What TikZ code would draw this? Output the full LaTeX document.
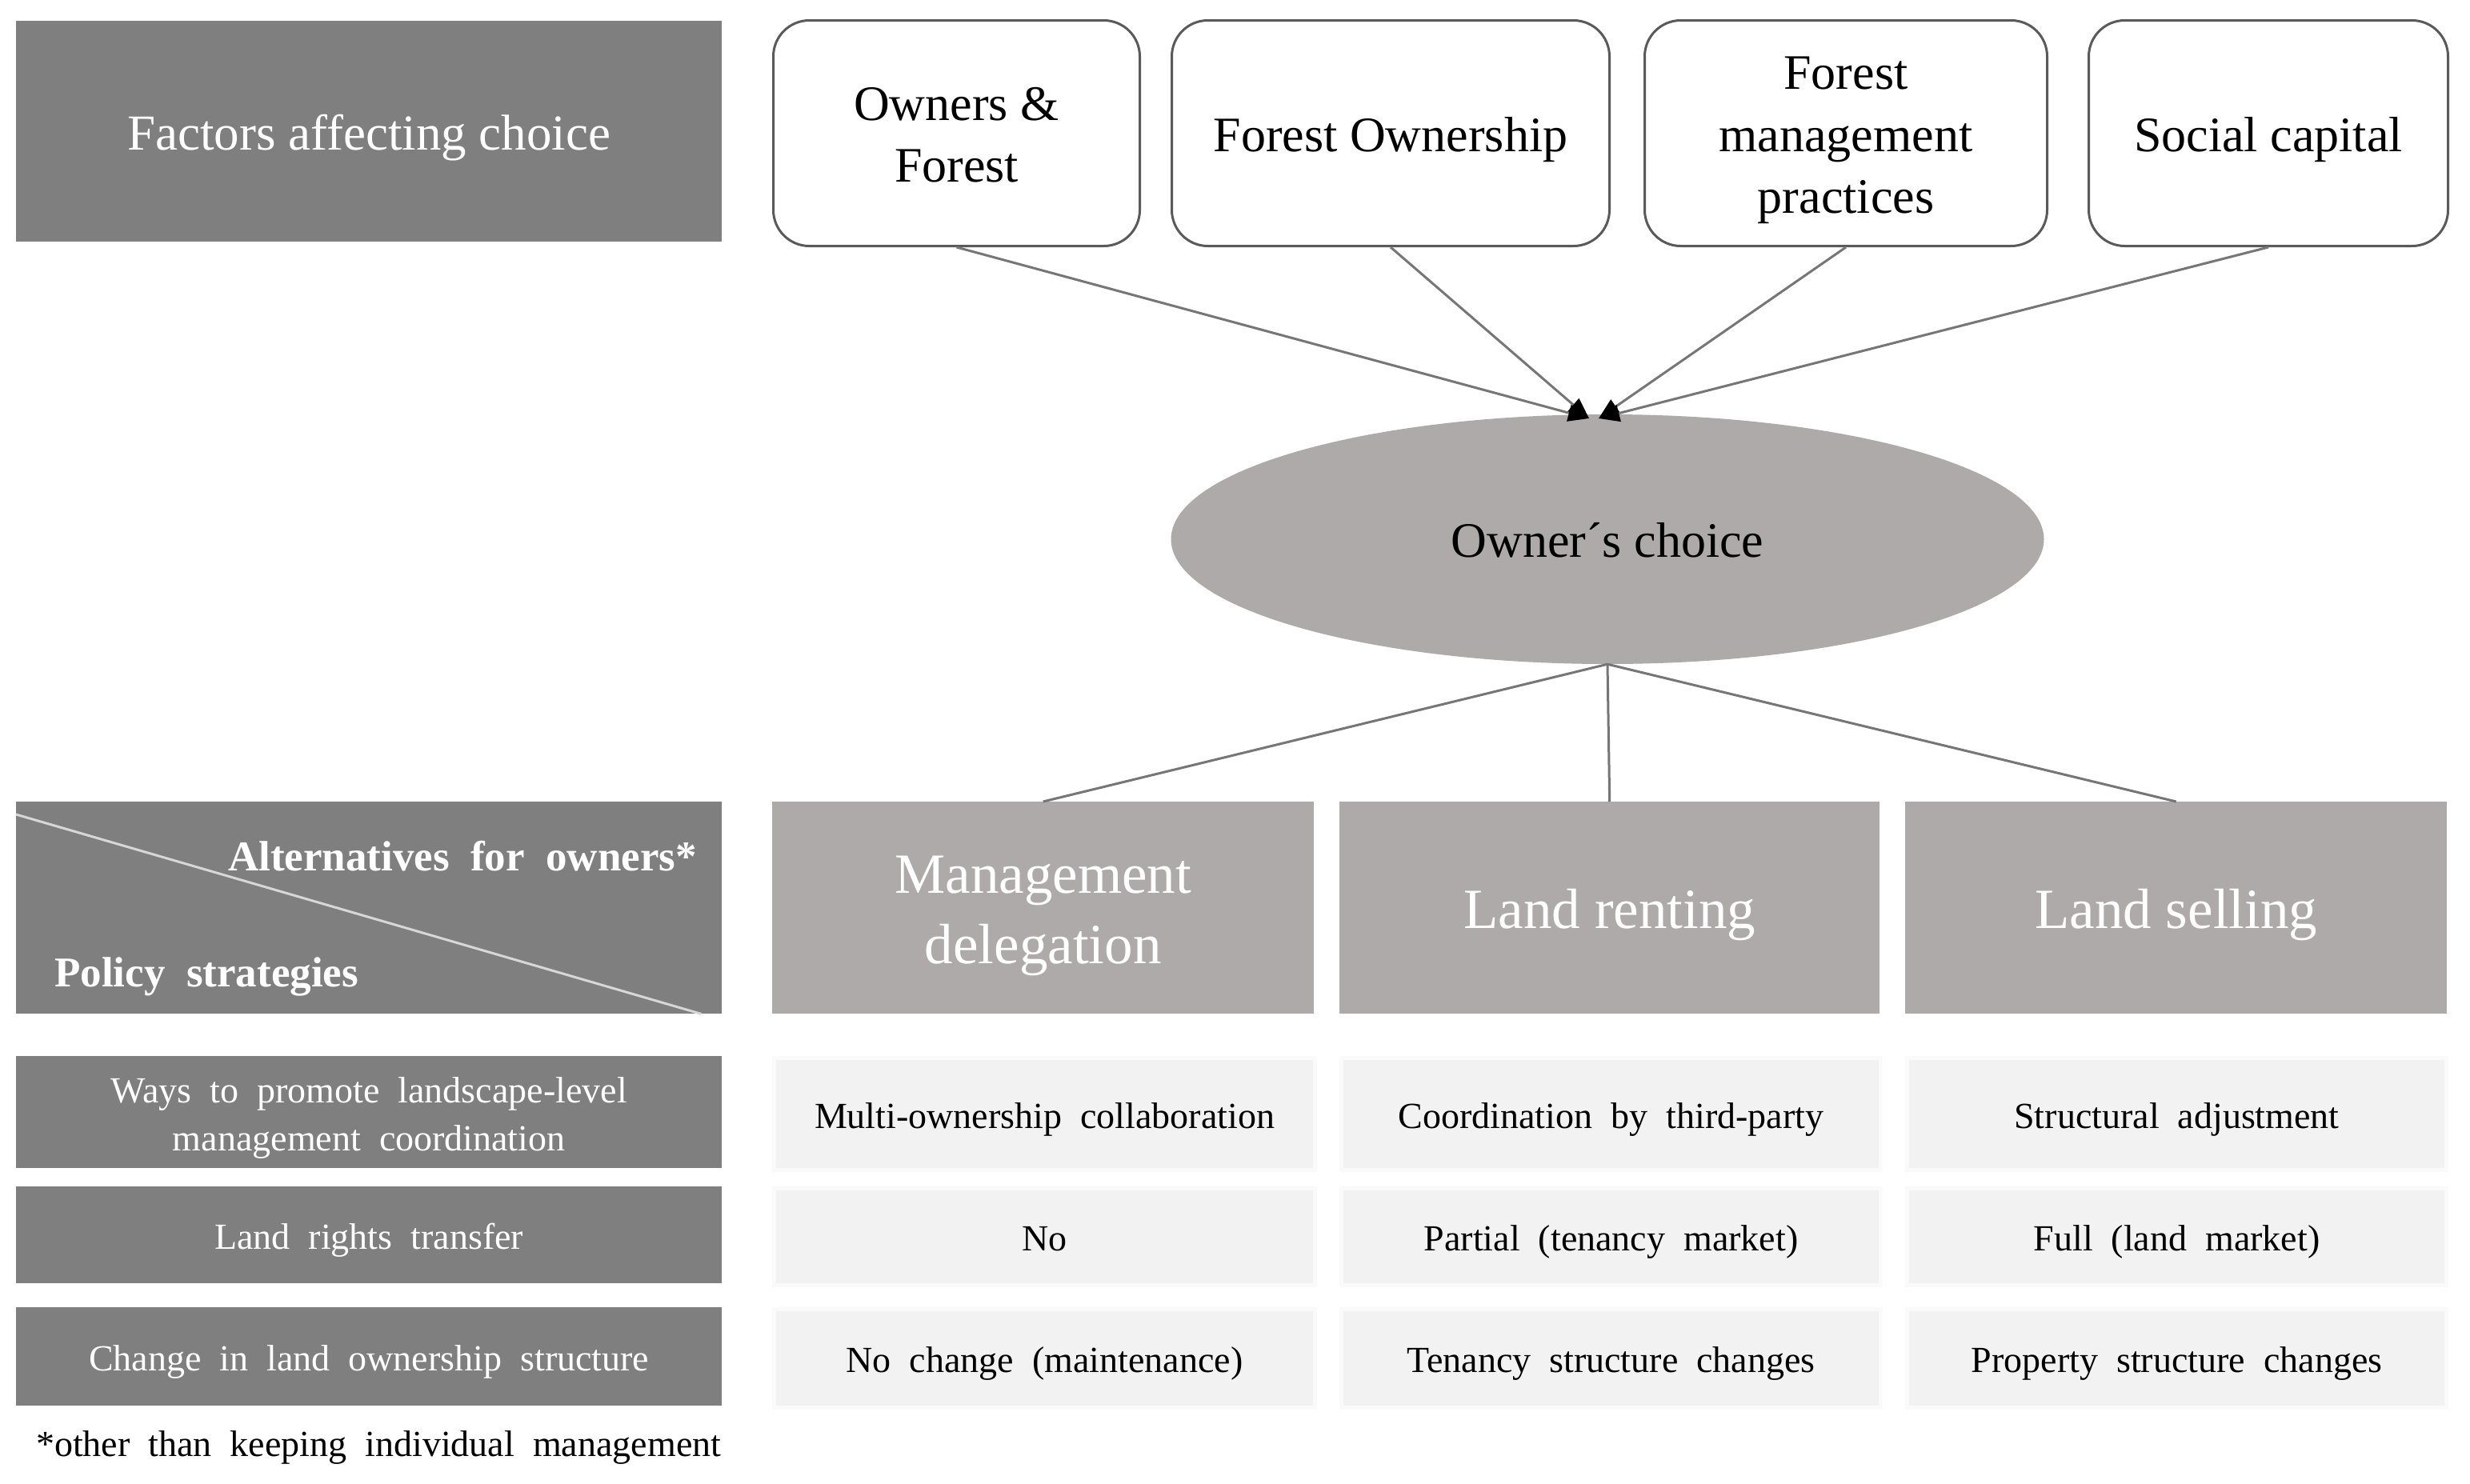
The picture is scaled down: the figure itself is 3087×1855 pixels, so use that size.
\documentclass[tikz,border=0pt]{standalone}
\usepackage{fontspec}
\setmainfont{Liberation Serif}
\usetikzlibrary{shapes.geometric,arrows.meta}
\definecolor{boxdark}{RGB}{127,127,127}
\definecolor{altgray}{RGB}{174,170,170}
\definecolor{cellgray}{RGB}{242,242,242}
\definecolor{cellrim}{RGB}{250,250,250}
\definecolor{rimgray}{RGB}{90,90,90}
\definecolor{linkgray}{RGB}{118,118,118}
\definecolor{diaggray}{RGB}{215,215,215}
\newcommand\tabfont{\fontsize{46}{58}\selectfont\spaceskip=0.5em\relax}
\newcommand\hdrfont{\fontsize{53}{64}\selectfont\bfseries\spaceskip=0.5em\relax}
\newcommand\bigfont{\fontsize{62}{75}\selectfont}
\newcommand\altfont{\fontsize{71}{84}\selectfont}
% invisible struts that put the baseline where the reference has it
\newcommand\pst{\vrule width 0pt height 0.98em depth 0.25em\relax}
\newcommand\tst{\vrule width 0pt height 1.03em depth 0.25em\relax}
\begin{document}
\begin{tikzpicture}[x=1pt,y=-1pt,
  darkbox/.style={fill=boxdark, text=white, inner sep=0pt, anchor=north west, align=center},
  factorbox/.style={draw=rimgray, line width=3pt, rounded corners=45pt, fill=white,
    inner sep=0pt, anchor=north west, align=center, font=\bigfont, minimum height=282pt},
  altbox/.style={fill=altgray, text=white, inner sep=0pt, anchor=north west, align=center,
    font=\altfont, minimum height=265pt},
  cellbox/.style={fill=cellgray, draw=cellrim, line width=5pt, inner sep=0pt,
    anchor=north west, align=center, font=\tabfont},
  link/.style={draw=linkgray, line width=3pt},
  arr/.style={link, -{Triangle[length=26pt,width=21pt,color=black]}},
]
\useasboundingbox (0,0) rectangle (3087,1855);

% header box top-left
\node[darkbox, minimum width=882pt, minimum height=276pt, font=\fontsize{63}{75}\selectfont]
  (F) at (20,26) {\pst Factors affecting choice};

% factor boxes
\node[factorbox, minimum width=458pt] (B1) at (965,24) {\pst Owners \&\\\pst Forest};
\node[factorbox, minimum width=547pt] (B2) at (1463,24) {\pst Forest Ownership};
\node[factorbox, minimum width=503pt] (B3) at (2054,24) {\pst Forest\\\pst management\\\pst practices};
\node[factorbox, minimum width=449pt] (B4) at (2609,24) {\pst Social capital};

% ellipse
\node[ellipse, fill=altgray, minimum width=1091pt, minimum height=312pt, inner sep=0pt,
  font=\bigfont] (E) at (2009,674) {\pst Owner´s choice};

\coordinate (tL) at (1986,523);
\coordinate (tR) at (1998,523);
\draw[arr] (B1.south) -- (tL);
\draw[arr] (B2.south) -- (tL);
\draw[arr] (B3.south) -- (tR);
\draw[arr] (B4.south) -- (tR);

% alternatives header
\node[darkbox, minimum width=882pt, minimum height=265pt] (H) at (20,1002) {};
\draw[diaggray, line width=3pt] ([yshift=-16pt]H.north west) -- ([xshift=-26pt]H.south east);
\node[anchor=base east, text=white, font=\hdrfont, inner sep=0pt] (Halt) at (871,1088) {Alternatives for owners*};
\node[anchor=base west, text=white, font=\hdrfont, inner sep=0pt] (Hpol) at (68,1233) {Policy strategies};

% alternatives
\node[altbox, minimum width=677pt] (D1) at (965,1002) {\pst Management\\\pst delegation};
\node[altbox, minimum width=675pt] (D2) at (1674,1002) {\pst Land renting};
\node[altbox, minimum width=677pt] (D3) at (2381,1002) {\pst Land selling};

\draw[link] (E.south) -- (D1.north);
\draw[link] (E.south) -- (D2.north);
\draw[link] (E.south) -- (D3.north);

% left row labels
\node[darkbox, font=\tabfont, minimum width=882pt, minimum height=140pt] (L1) at (20,1320)
  {\tst Ways to promote landscape-level\\\tst management coordination};
\node[darkbox, font=\tabfont, minimum width=882pt, minimum height=121pt] (L2) at (20,1483)
  {\tst Land rights transfer};
\node[darkbox, font=\tabfont, minimum width=882pt, minimum height=123pt] (L3) at (20,1634)
  {\tst Change in land ownership structure};

% cells row 1
\node[cellbox, minimum width=676pt, minimum height=140pt] (C11) at (965,1320) {\tst Multi-ownership collaboration};
\node[cellbox, minimum width=674pt, minimum height=140pt] (C12) at (1674,1320) {\tst Coordination by third-party};
\node[cellbox, minimum width=674pt, minimum height=140pt] (C13) at (2381,1320) {\tst Structural adjustment};
% row 2
\node[cellbox, minimum width=676pt, minimum height=121pt] (C21) at (965,1483) {\tst No};
\node[cellbox, minimum width=674pt, minimum height=121pt] (C22) at (1674,1483) {\tst Partial (tenancy market)};
\node[cellbox, minimum width=674pt, minimum height=121pt] (C23) at (2381,1483) {\tst Full (land market)};
% row 3
\node[cellbox, minimum width=676pt, minimum height=123pt] (C31) at (965,1634) {\tst No change (maintenance)};
\node[cellbox, minimum width=674pt, minimum height=123pt] (C32) at (1674,1634) {\tst Tenancy structure changes};
\node[cellbox, minimum width=674pt, minimum height=123pt] (C33) at (2381,1634) {\tst Property structure changes};

% footnote
\node[anchor=base west, font=\tabfont, inner sep=0pt] (fn) at (45,1820) {*other than keeping individual management};
\end{tikzpicture}
\end{document}
